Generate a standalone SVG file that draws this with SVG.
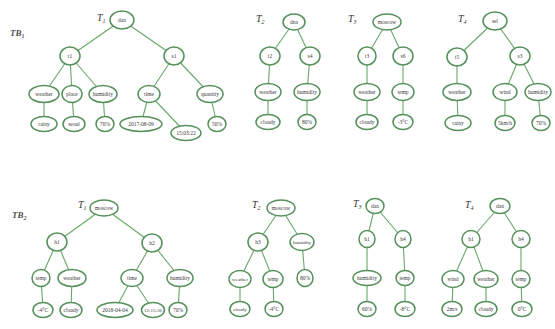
<svg xmlns="http://www.w3.org/2000/svg" width="555" height="329" viewBox="0 0 555 329">
<style>
.bg{fill:#ffffff}
.e{stroke:#68a868;stroke-width:1.1;fill:none}
.n ellipse{fill:#ffffff;stroke:#55905a;stroke-width:1.5}
.n text{font-family:"Liberation Serif",serif;font-size:5.5px;fill:#3a3a3a;text-anchor:middle;dominant-baseline:central}
.n text.s{font-size:5px}
.lb{font-family:"Liberation Serif",serif;font-style:italic;font-size:10px;fill:#333}
.db{font-family:"Liberation Serif",serif;font-style:italic;font-weight:bold;font-size:9px;fill:#555}
</style>
<rect class="bg" width="555" height="329"/>
<text class="db" x="10" y="36">TB<tspan font-size="6" dy="2">1</tspan></text>
<text class="db" x="12" y="218">TB<tspan font-size="6" dy="2">2</tspan></text>
<text class="lb" x="97" y="21">T<tspan font-size="6" dy="2">1</tspan></text>
<text class="lb" x="256" y="22">T<tspan font-size="6" dy="2">2</tspan></text>
<text class="lb" x="348" y="22">T<tspan font-size="6" dy="2">3</tspan></text>
<text class="lb" x="458" y="22">T<tspan font-size="6" dy="2">4</tspan></text>
<text class="lb" x="78" y="208">T<tspan font-size="6" dy="2">1</tspan></text>
<text class="lb" x="252" y="208">T<tspan font-size="6" dy="2">2</tspan></text>
<text class="lb" x="353" y="207">T<tspan font-size="6" dy="2">3</tspan></text>
<text class="lb" x="465" y="208">T<tspan font-size="6" dy="2">4</tspan></text>
<g id="connectors" class="e">
<line x1="122" y1="20" x2="70" y2="56"/><line x1="122" y1="20" x2="174" y2="56"/>
<line x1="70" y1="56" x2="44" y2="94"/><line x1="70" y1="56" x2="72" y2="94"/><line x1="70" y1="56" x2="103" y2="94"/>
<line x1="174" y1="56" x2="149" y2="94"/><line x1="174" y1="56" x2="210" y2="94"/>
<line x1="44" y1="94" x2="44" y2="124"/><line x1="72" y1="94" x2="74" y2="124"/><line x1="103" y1="94" x2="105" y2="124"/>
<line x1="149" y1="94" x2="141" y2="124"/><line x1="149" y1="94" x2="186" y2="133"/><line x1="210" y1="94" x2="217" y2="124"/>
<line x1="294" y1="22" x2="270" y2="56"/><line x1="294" y1="22" x2="310" y2="56"/>
<line x1="270" y1="56" x2="268" y2="92"/><line x1="310" y1="56" x2="307" y2="92"/>
<line x1="268" y1="92" x2="268" y2="122"/><line x1="307" y1="92" x2="307" y2="122"/>
<line x1="387" y1="22" x2="367" y2="56"/><line x1="387" y1="22" x2="403" y2="56"/>
<line x1="367" y1="56" x2="367" y2="92"/><line x1="403" y1="56" x2="403" y2="92"/>
<line x1="367" y1="92" x2="367" y2="122"/><line x1="403" y1="92" x2="403" y2="122"/>
<line x1="495" y1="21" x2="457" y2="57"/><line x1="495" y1="21" x2="520" y2="56"/>
<line x1="457" y1="57" x2="457" y2="92"/><line x1="520" y1="56" x2="505" y2="92"/><line x1="520" y1="56" x2="538" y2="92"/>
<line x1="457" y1="92" x2="458" y2="123"/><line x1="505" y1="92" x2="505" y2="123"/><line x1="538" y1="92" x2="541" y2="123"/>
<line x1="104" y1="208" x2="57" y2="242"/><line x1="104" y1="208" x2="152" y2="243"/>
<line x1="57" y1="242" x2="41" y2="278"/><line x1="57" y1="242" x2="72" y2="278"/>
<line x1="152" y1="243" x2="132" y2="278"/><line x1="152" y1="243" x2="180" y2="278"/>
<line x1="41" y1="278" x2="43" y2="310"/><line x1="72" y1="278" x2="71" y2="310"/>
<line x1="132" y1="278" x2="115" y2="310"/><line x1="132" y1="278" x2="153" y2="310"/><line x1="180" y1="278" x2="178" y2="310"/>
<line x1="281" y1="208" x2="258" y2="242"/><line x1="281" y1="208" x2="302" y2="242"/>
<line x1="258" y1="242" x2="240" y2="279"/><line x1="258" y1="242" x2="273" y2="279"/><line x1="302" y1="242" x2="305" y2="278"/>
<line x1="240" y1="279" x2="240" y2="309"/><line x1="273" y1="279" x2="274" y2="309"/>
<line x1="375" y1="206" x2="367" y2="239"/><line x1="375" y1="206" x2="403" y2="239"/>
<line x1="367" y1="239" x2="367" y2="278"/><line x1="403" y1="239" x2="405" y2="278"/>
<line x1="367" y1="278" x2="367" y2="309"/><line x1="405" y1="278" x2="405" y2="309"/>
<line x1="500" y1="206" x2="471" y2="239"/><line x1="500" y1="206" x2="521" y2="239"/>
<line x1="471" y1="239" x2="453" y2="279"/><line x1="471" y1="239" x2="486" y2="279"/><line x1="521" y1="239" x2="521" y2="279"/>
<line x1="453" y1="279" x2="452" y2="309"/><line x1="486" y1="279" x2="486" y2="309"/><line x1="521" y1="279" x2="522" y2="309"/>
</g>
<!-- TB1 T1 -->
<g id="a1" class="n"><ellipse cx="122" cy="20" rx="12" ry="9"/><text x="122" y="20">dan</text></g>
<g id="a2" class="n"><ellipse cx="70" cy="56" rx="10" ry="9"/><text x="70" y="56">t1</text></g>
<g id="a3" class="n"><ellipse cx="174" cy="56" rx="10" ry="9"/><text x="174" y="56">s1</text></g>
<g id="a4" class="n"><ellipse cx="44" cy="94" rx="15" ry="8.5"/><text x="44" y="94">weather</text></g>
<g id="a5" class="n"><ellipse cx="72" cy="94" rx="10" ry="8.5"/><text x="72" y="94">place</text></g>
<g id="a6" class="n"><ellipse cx="103" cy="94" rx="14" ry="8.5"/><text x="103" y="94">humidity</text></g>
<g id="a7" class="n"><ellipse cx="149" cy="94" rx="11" ry="8.5"/><text x="149" y="94">time</text></g>
<g id="a8" class="n"><ellipse cx="210" cy="94" rx="13" ry="8.5"/><text x="210" y="94">quantity</text></g>
<g id="a9" class="n"><ellipse cx="44" cy="124" rx="13" ry="7.5"/><text x="44" y="124">rainy</text></g>
<g id="a10" class="n"><ellipse cx="74" cy="124" rx="11" ry="7.5"/><text x="74" y="124">seoul</text></g>
<g id="a11" class="n"><ellipse cx="105" cy="124" rx="9" ry="7.5"/><text x="105" y="124">70%</text></g>
<g id="a12" class="n"><ellipse cx="141" cy="124" rx="21" ry="7.5"/><text x="141" y="124">2017-08-09</text></g>
<g id="a13" class="n"><ellipse cx="186" cy="133" rx="15" ry="7.5"/><text x="186" y="133">15:03:22</text></g>
<g id="a14" class="n"><ellipse cx="217" cy="124" rx="9" ry="7.5"/><text x="217" y="124">50%</text></g>
<!-- TB1 T2 -->
<g id="b1" class="n"><ellipse cx="294" cy="22" rx="11" ry="8"/><text x="294" y="22">dna</text></g>
<g id="b2" class="n"><ellipse cx="270" cy="56" rx="10" ry="9"/><text x="270" y="56">t2</text></g>
<g id="b3" class="n"><ellipse cx="310" cy="56" rx="10" ry="9"/><text x="310" y="56">s4</text></g>
<g id="b4" class="n"><ellipse cx="268" cy="92" rx="13" ry="8.5"/><text x="268" y="92">weather</text></g>
<g id="b5" class="n"><ellipse cx="307" cy="92" rx="13" ry="8.5"/><text x="307" y="92">humidity</text></g>
<g id="b6" class="n"><ellipse cx="268" cy="122" rx="12" ry="7.5"/><text x="268" y="122">cloudy</text></g>
<g id="b7" class="n"><ellipse cx="307" cy="122" rx="9" ry="7.5"/><text x="307" y="122">80%</text></g>
<!-- TB1 T3 -->
<g id="c1" class="n"><ellipse cx="387" cy="22" rx="14" ry="8"/><text x="387" y="22">moscow</text></g>
<g id="c2" class="n"><ellipse cx="367" cy="56" rx="9" ry="9"/><text x="367" y="56">t3</text></g>
<g id="c3" class="n"><ellipse cx="403" cy="56" rx="10" ry="9"/><text x="403" y="56">s6</text></g>
<g id="c4" class="n"><ellipse cx="367" cy="92" rx="13" ry="8.5"/><text x="367" y="92">weather</text></g>
<g id="c5" class="n"><ellipse cx="403" cy="92" rx="11" ry="8.5"/><text x="403" y="92">temp</text></g>
<g id="c6" class="n"><ellipse cx="367" cy="122" rx="11" ry="7.5"/><text x="367" y="122">cloudy</text></g>
<g id="c7" class="n"><ellipse cx="403" cy="122" rx="10" ry="7.5"/><text x="403" y="122">-3°C</text></g>
<!-- TB1 T4 -->
<g id="d1" class="n"><ellipse cx="495" cy="21" rx="12" ry="9"/><text x="495" y="21">sel</text></g>
<g id="d2" class="n"><ellipse cx="457" cy="57" rx="10" ry="9"/><text x="457" y="57">t5</text></g>
<g id="d3" class="n"><ellipse cx="520" cy="56" rx="10" ry="9"/><text x="520" y="56">s3</text></g>
<g id="d4" class="n"><ellipse cx="457" cy="92" rx="14" ry="8.5"/><text x="457" y="92">weather</text></g>
<g id="d5" class="n"><ellipse cx="505" cy="92" rx="12" ry="8.5"/><text x="505" y="92">wind</text></g>
<g id="d6" class="n"><ellipse cx="538" cy="92" rx="13" ry="8.5"/><text x="538" y="92">humidity</text></g>
<g id="d7" class="n"><ellipse cx="458" cy="123" rx="13" ry="7.5"/><text x="458" y="123">rainy</text></g>
<g id="d8" class="n"><ellipse cx="505" cy="123" rx="10" ry="7.5"/><text x="505" y="123">5km/h</text></g>
<g id="d9" class="n"><ellipse cx="541" cy="123" rx="9" ry="7.5"/><text x="541" y="123">70%</text></g>
<!-- TB2 T1 -->
<g id="e1" class="n"><ellipse cx="104" cy="208" rx="14" ry="8"/><text x="104" y="208">moscow</text></g>
<g id="e2" class="n"><ellipse cx="57" cy="242" rx="10" ry="9"/><text x="57" y="242">h1</text></g>
<g id="e3" class="n"><ellipse cx="152" cy="243" rx="10" ry="9"/><text x="152" y="243">h2</text></g>
<g id="e4" class="n"><ellipse cx="41" cy="278" rx="9" ry="8.5"/><text x="41" y="278">temp</text></g>
<g id="e5" class="n"><ellipse cx="72" cy="278" rx="14" ry="8.5"/><text x="72" y="278">weather</text></g>
<g id="e6" class="n"><ellipse cx="132" cy="278" rx="11" ry="8.5"/><text x="132" y="278">time</text></g>
<g id="e7" class="n"><ellipse cx="180" cy="278" rx="13" ry="8.5"/><text x="180" y="278">humidity</text></g>
<g id="e8" class="n"><ellipse cx="43" cy="310" rx="10" ry="7.5"/><text x="43" y="310">-4°C</text></g>
<g id="e9" class="n"><ellipse cx="71" cy="310" rx="11" ry="7.5"/><text x="71" y="310">cloudy</text></g>
<g id="e10" class="n"><ellipse cx="115" cy="310" rx="18" ry="7.5"/><text x="115" y="310">2018-04-04</text></g>
<g id="e11" class="n"><ellipse cx="153" cy="310" rx="11.5" ry="7.5"/><text class="s" x="153" y="310">12:15:30</text></g>
<g id="e12" class="n"><ellipse cx="178" cy="310" rx="9" ry="7.5"/><text x="178" y="310">70%</text></g>
<!-- TB2 T2 -->
<g id="f1" class="n"><ellipse cx="281" cy="208" rx="14" ry="8"/><text x="281" y="208">moscow</text></g>
<g id="f2" class="n"><ellipse cx="258" cy="242" rx="10" ry="9"/><text x="258" y="242">h3</text></g>
<g id="f3" class="n"><ellipse cx="302" cy="242" rx="12" ry="8.5"/><text class="s" x="302" y="242">humidity</text></g>
<g id="f4" class="n"><ellipse cx="240" cy="279" rx="11" ry="8.5"/><text class="s" x="240" y="279">weather</text></g>
<g id="f5" class="n"><ellipse cx="273" cy="279" rx="10" ry="8.5"/><text x="273" y="279">temp</text></g>
<g id="f6" class="n"><ellipse cx="305" cy="278" rx="8" ry="8.5"/><text x="305" y="278">80%</text></g>
<g id="f7" class="n"><ellipse cx="240" cy="309" rx="10" ry="7.5"/><text class="s" x="240" y="309">cloudy</text></g>
<g id="f8" class="n"><ellipse cx="274" cy="309" rx="9" ry="7.5"/><text x="274" y="309">-4°C</text></g>
<!-- TB2 T3 -->
<g id="g1" class="n"><ellipse cx="375" cy="206" rx="9" ry="7.5"/><text x="375" y="206">dan</text></g>
<g id="g2" class="n"><ellipse cx="367" cy="239" rx="8" ry="8.5"/><text x="367" y="239">h1</text></g>
<g id="g3" class="n"><ellipse cx="403" cy="239" rx="8" ry="8.5"/><text x="403" y="239">h4</text></g>
<g id="g4" class="n"><ellipse cx="367" cy="278" rx="14" ry="7.5"/><text x="367" y="278">humidity</text></g>
<g id="g5" class="n"><ellipse cx="405" cy="278" rx="9" ry="7.5"/><text x="405" y="278">temp</text></g>
<g id="g6" class="n"><ellipse cx="367" cy="309" rx="9" ry="7.5"/><text x="367" y="309">60%</text></g>
<g id="g7" class="n"><ellipse cx="405" cy="309" rx="10" ry="7.5"/><text x="405" y="309">-8°C</text></g>
<!-- TB2 T4 -->
<g id="h1" class="n"><ellipse cx="500" cy="206" rx="10" ry="7.5"/><text x="500" y="206">dan</text></g>
<g id="h2" class="n"><ellipse cx="471" cy="239" rx="9" ry="8.5"/><text x="471" y="239">h1</text></g>
<g id="h3" class="n"><ellipse cx="521" cy="239" rx="9" ry="8.5"/><text x="521" y="239">h4</text></g>
<g id="h4" class="n"><ellipse cx="453" cy="279" rx="11" ry="8.5"/><text x="453" y="279">wind</text></g>
<g id="h5" class="n"><ellipse cx="486" cy="279" rx="12" ry="8.5"/><text x="486" y="279">weather</text></g>
<g id="h6" class="n"><ellipse cx="521" cy="279" rx="9" ry="8.5"/><text x="521" y="279">temp</text></g>
<g id="h7" class="n"><ellipse cx="452" cy="309" rx="10" ry="7.5"/><text x="452" y="309">2m/s</text></g>
<g id="h8" class="n"><ellipse cx="486" cy="309" rx="11" ry="7.5"/><text x="486" y="309">cloudy</text></g>
<g id="h9" class="n"><ellipse cx="522" cy="309" rx="10" ry="7.5"/><text x="522" y="309">0°C</text></g>
</svg>
